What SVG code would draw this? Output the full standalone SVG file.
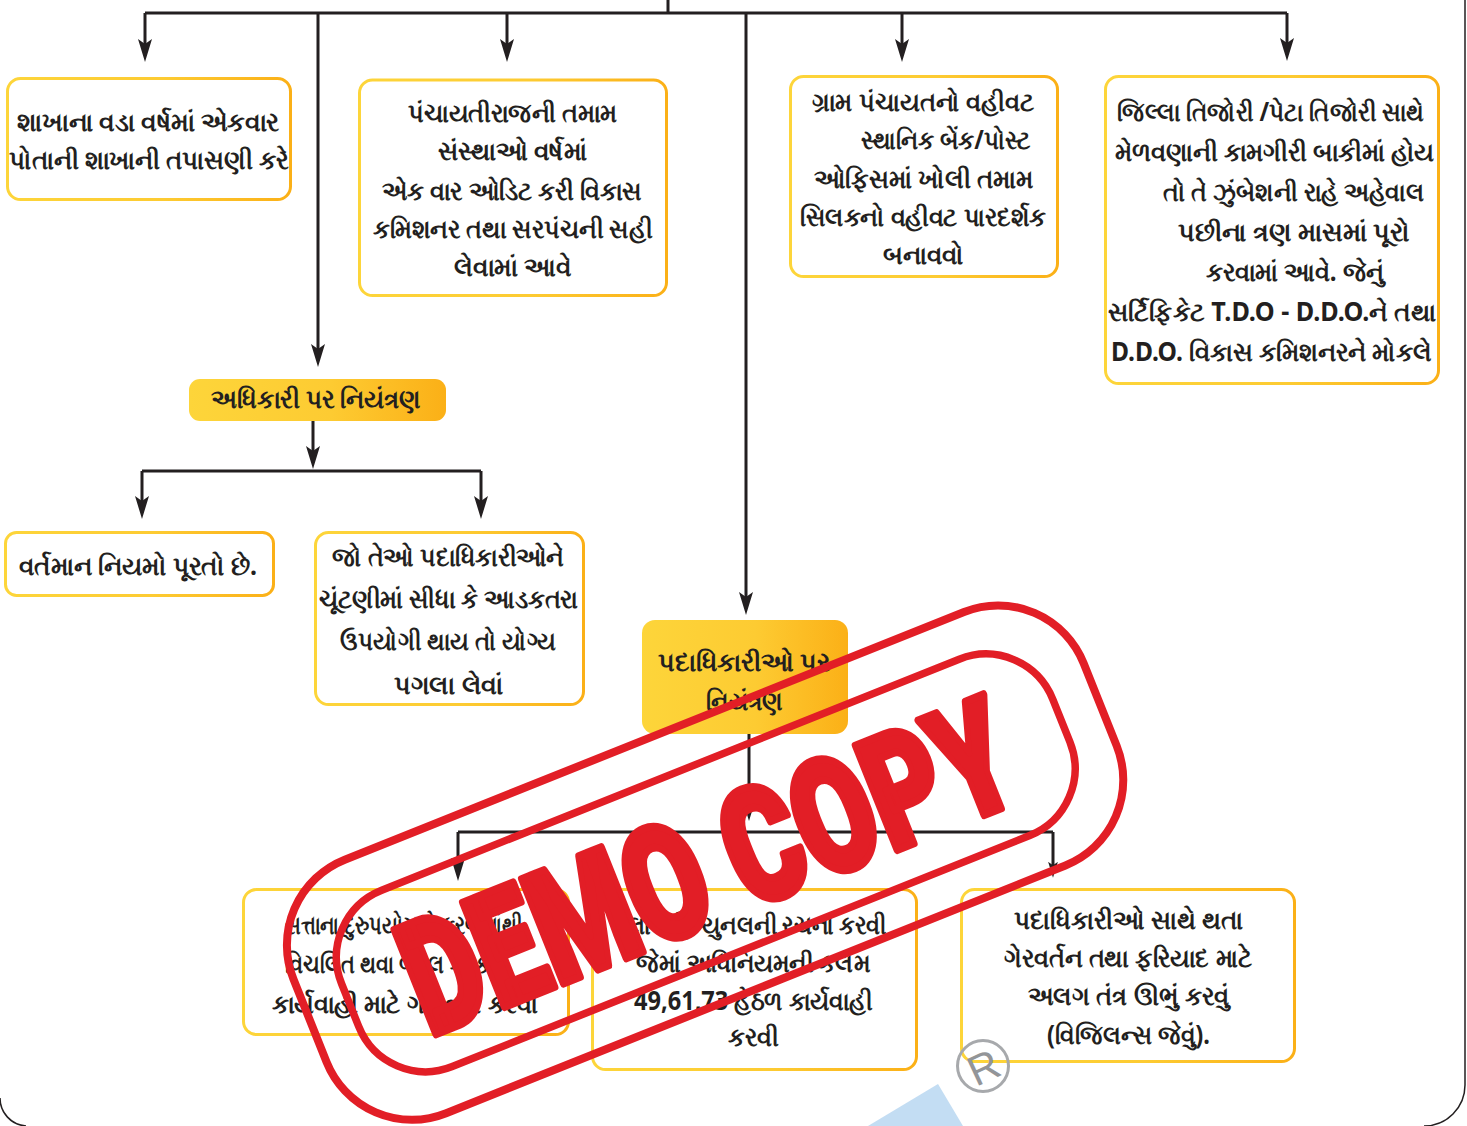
<svg xmlns="http://www.w3.org/2000/svg" width="1467" height="1126" viewBox="0 0 1467 1126">
<style>
.t{font-family:"Noto Sans","Liberation Sans",sans-serif;font-size:26px;font-weight:700;fill:#231f20}
.b{fill:#fff;stroke:url(#g);stroke-width:3}
.f{fill:url(#g);stroke:none}
.c{fill:none;stroke:#231f20;stroke-width:3}
.s{fill:none;stroke:#e21e26}
</style>
<defs>
<linearGradient id="g" x1="0" y1="0" x2="1" y2="0"><stop offset="0" stop-color="#fdd53a"/><stop offset="0.55" stop-color="#fdcb32"/><stop offset="1" stop-color="#fbb017"/></linearGradient>
<marker id="a" viewBox="0 0 23 14" markerUnits="userSpaceOnUse" markerWidth="23" markerHeight="14" refX="6" refY="7" orient="auto"><path d="M0,0L23,7L0,14L5,7z" fill="#231f20"/></marker>
<marker id="a2" viewBox="0 0 23 14" markerUnits="userSpaceOnUse" markerWidth="16" markerHeight="10" refX="6" refY="7" orient="auto"><path d="M0,0L23,7L0,14L5,7z" fill="#231f20"/></marker>
</defs>
<rect width="1467" height="1126" fill="#fff"/>
<g id="page"><path d="M1465,0V1085A41,41 0 0 1 1424,1126M0,1098A28,28 0 0 0 26,1126" fill="none" stroke="#231f20" stroke-width="1.5"/><path d="M938,1084L963,1126H868z" fill="#c3ddf3"/></g>
<g id="connectors">
<path class="c" d="M668,0V13M145,13H1287"/>
<path class="c" marker-end="url(#a)" d="M145,13V45"/>
<path class="c" marker-end="url(#a)" d="M507,13V45"/>
<path class="c" marker-end="url(#a)" d="M902,13V45"/>
<path class="c" marker-end="url(#a)" d="M1287,13V44"/>
<path class="c" marker-end="url(#a)" d="M318,13V350"/>
<path class="c" marker-end="url(#a)" d="M746,13V598"/>
<path class="c" marker-end="url(#a)" d="M313,421V452"/>
<path class="c" d="M142,471H481"/>
<path class="c" marker-end="url(#a)" d="M142,471V502"/>
<path class="c" marker-end="url(#a)" d="M481,471V502"/>
<path class="c" marker-end="url(#a)" d="M749,734V804"/>
<path class="c" d="M458,832H1053"/>
<path class="c" marker-end="url(#a)" d="M458,832V864"/>
<path class="c" stroke-width="2.500" marker-end="url(#a2)" d="M1053,832V866"/>
</g>
<g id="n1"><rect class="b" x="7.500" y="78.500" width="283" height="121" rx="13"/>
<text class="t" x="17" y="131" textLength="262" lengthAdjust="spacingAndGlyphs">શાખાના વડા વર્ષમાં એકવાર</text>
<text class="t" x="9" y="169" textLength="279" lengthAdjust="spacingAndGlyphs">પોતાની શાખાની તપાસણી કરે</text></g>
<g id="n2"><rect class="b" x="359.500" y="80" width="307" height="215.500" rx="13"/>
<text class="t" x="408" y="122" textLength="209" lengthAdjust="spacingAndGlyphs">પંચાયતીરાજની તમામ</text>
<text class="t" x="438" y="160" textLength="149" lengthAdjust="spacingAndGlyphs">સંસ્થાઓ વર્ષમાં</text>
<text class="t" x="382" y="200" textLength="260" lengthAdjust="spacingAndGlyphs">એક વાર ઓડિટ કરી વિકાસ</text>
<text class="t" x="373" y="238" textLength="279" lengthAdjust="spacingAndGlyphs">કમિશનર તથા સરપંચની સહી</text>
<text class="t" x="454" y="276" textLength="117" lengthAdjust="spacingAndGlyphs">લેવામાં આવે</text></g>
<g id="n3"><rect class="b" x="790.500" y="76.500" width="267" height="200" rx="13"/>
<text class="t" x="812" y="111" textLength="222" lengthAdjust="spacingAndGlyphs">ગ્રામ પંચાયતનો વહીવટ</text>
<text class="t" x="861" y="149" textLength="169" lengthAdjust="spacingAndGlyphs">સ્થાનિક બેંક/પોસ્ટ</text>
<text class="t" x="814" y="188" textLength="219" lengthAdjust="spacingAndGlyphs">ઓફિસમાં ખોલી તમામ</text>
<text class="t" x="800" y="226" textLength="246" lengthAdjust="spacingAndGlyphs">સિલકનો વહીવટ પારદર્શક</text>
<text class="t" x="883" y="264" textLength="81" lengthAdjust="spacingAndGlyphs">બનાવવો</text></g>
<g id="n4"><rect class="b" x="1105.500" y="76.500" width="333" height="307" rx="13"/>
<text class="t" x="1117" y="121" textLength="307" lengthAdjust="spacingAndGlyphs">જિલ્લા તિજોરી /પેટા તિજોરી સાથે</text>
<text class="t" x="1115" y="161" textLength="319" lengthAdjust="spacingAndGlyphs">મેળવણાની કામગીરી બાકીમાં હોય</text>
<text class="t" x="1163" y="201" textLength="261" lengthAdjust="spacingAndGlyphs">તો તે ઝુંબેશની રાહે અહેવાલ</text>
<text class="t" x="1178" y="241" textLength="232" lengthAdjust="spacingAndGlyphs">પછીના ત્રણ માસમાં પૂરો</text>
<text class="t" x="1206" y="281" textLength="178" lengthAdjust="spacingAndGlyphs">કરવામાં આવે. જેનું</text>
<text class="t" x="1108" y="321" textLength="328" lengthAdjust="spacingAndGlyphs">સર્ટિફિકેટ T.D.O - D.D.O.ને તથા</text>
<text class="t" x="1111" y="361" textLength="321" lengthAdjust="spacingAndGlyphs">D.D.O. વિકાસ કમિશનરને મોકલે</text></g>
<g id="n5"><rect class="f" x="189" y="379" width="257" height="42" rx="11"/>
<text class="t" x="211" y="408" textLength="210" lengthAdjust="spacingAndGlyphs">અધિકારી પર નિયંત્રણ</text></g>
<g id="n6"><rect class="b" x="5.500" y="532.500" width="268" height="63" rx="11"/>
<text class="t" x="19" y="575" textLength="238" lengthAdjust="spacingAndGlyphs">વર્તમાન નિયમો પૂરતો છે.</text></g>
<g id="n7"><rect class="b" x="315.500" y="532.500" width="268" height="172" rx="13"/>
<text class="t" x="332" y="566" textLength="232" lengthAdjust="spacingAndGlyphs">જો તેઓ પદાધિકારીઓને</text>
<text class="t" x="319" y="608" textLength="259" lengthAdjust="spacingAndGlyphs">ચૂંટણીમાં સીધા કે આડકતરા</text>
<text class="t" x="340" y="650" textLength="216" lengthAdjust="spacingAndGlyphs">ઉપયોગી થાય તો યોગ્ય</text>
<text class="t" x="394" y="694" textLength="109" lengthAdjust="spacingAndGlyphs">પગલા લેવાં</text></g>
<g id="n8"><rect class="f" x="642" y="620" width="206" height="114" rx="13"/>
<text class="t" x="658" y="671" textLength="172" lengthAdjust="spacingAndGlyphs">પદાધિકારીઓ પર</text>
<text class="t" x="706" y="710" textLength="77" lengthAdjust="spacingAndGlyphs">નિયંત્રણ</text></g>
<g id="n9"><rect class="b" x="243.500" y="889.500" width="325" height="145" rx="13"/>
<text class="t" x="285" y="934" textLength="237" lengthAdjust="spacingAndGlyphs">સત્તાના દુરુપયોગ કે ફરજમાંથી</text>
<text class="t" x="285" y="973" textLength="205" lengthAdjust="spacingAndGlyphs">વિચલિત થવા બદલ કડક</text>
<text class="t" x="272" y="1013" textLength="266" lengthAdjust="spacingAndGlyphs">કાર્યવાહી માટે ગોઠવણ કરવી</text></g>
<g id="n10"><rect class="b" x="592.500" y="889.500" width="324" height="180" rx="13"/>
<text class="t" x="628" y="934" textLength="258" lengthAdjust="spacingAndGlyphs">લોક ટ્રિબ્યુનલની રચના કરવી</text>
<text class="t" x="636" y="972" textLength="234" lengthAdjust="spacingAndGlyphs">જેમાં અધિનિયમની કલમ</text>
<text class="t" x="634" y="1010" textLength="238" lengthAdjust="spacingAndGlyphs">49,61,73 હેઠળ કાર્યવાહી</text>
<text class="t" x="728" y="1046" textLength="50" lengthAdjust="spacingAndGlyphs">કરવી</text></g>
<g id="n11"><rect class="b" x="961.500" y="889.500" width="333" height="172" rx="13"/>
<text class="t" x="1014" y="929" textLength="229" lengthAdjust="spacingAndGlyphs">પદાધિકારીઓ સાથે થતા</text>
<text class="t" x="1004" y="967" textLength="248" lengthAdjust="spacingAndGlyphs">ગેરવર્તન તથા ફરિયાદ માટે</text>
<text class="t" x="1028" y="1005" textLength="201" lengthAdjust="spacingAndGlyphs">અલગ તંત્ર ઊભું કરવું</text>
<text class="t" x="1047" y="1044" textLength="163" lengthAdjust="spacingAndGlyphs">(વિજિલન્સ જેવું).</text></g>
<g id="registered"><circle cx="983" cy="1066" r="25.500" fill="none" stroke="#a7a9ac" stroke-width="3"/>
<text x="983" y="1082" text-anchor="middle" transform="rotate(-25 983 1066)" font-family="'Liberation Sans',sans-serif" font-size="42" fill="#939598">R</text></g>
<g id="stamp" transform="rotate(-21.800 705 861)">
<rect class="s" x="279" y="726" width="851" height="273" rx="92" stroke-width="8"/>
<rect class="s" x="322" y="768" width="766" height="190" rx="72" stroke-width="7.500"/>
<text x="384" y="922" textLength="642" lengthAdjust="spacingAndGlyphs" font-family="Roboto,'Liberation Sans',sans-serif" font-weight="900" font-size="158" fill="#e21e26" stroke="#e21e26" stroke-width="8" stroke-linejoin="round">DEMO COPY</text>
</g>
</svg>
